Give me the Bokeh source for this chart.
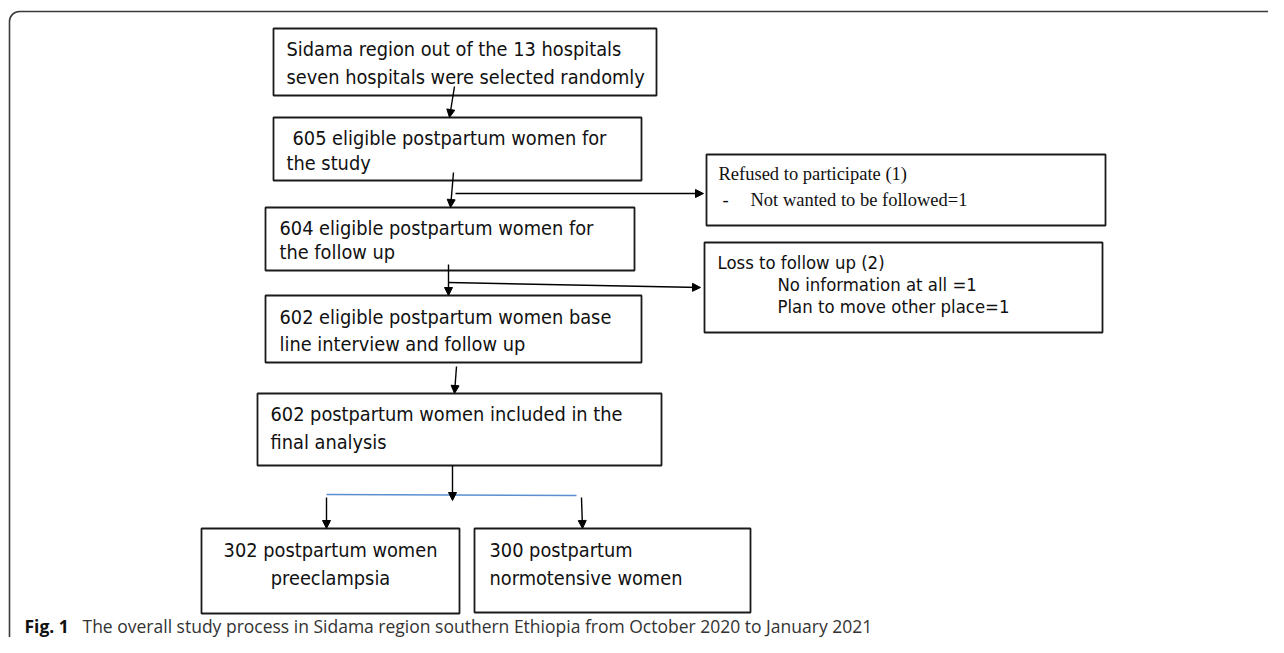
from bokeh.plotting import figure
from bokeh.models import Range1d, Arrow, NormalHead, ColumnDataSource
from bokeh.core.properties import value
from bokeh.embed import file_html
from bokeh.resources import INLINE

# ---- flowchart content ----
box_names = ["hospitals", "eligible605", "eligible604", "eligible602", "final602",
             "preeclampsia", "normotensive", "refused", "loss"]
box_left = [273, 273, 265, 265, 257, 201, 474, 706, 704]
box_right = [656, 641, 634, 641, 661, 459, 750, 1105, 1102]
box_top = [28, 117, 207, 295, 393, 528, 528, 154, 242]
box_bottom = [95, 180, 270, 362, 465, 613, 612, 225, 332]

sans_text = [
    "Sidama region out of the 13 hospitals",
    "seven hospitals were selected randomly",
    "605 eligible postpartum women for",
    "the study",
    "604 eligible postpartum women for",
    "the follow up",
    "602 eligible postpartum women base",
    "line interview and follow up",
    "602 postpartum women included in the",
    "final analysis",
    "300 postpartum",
    "normotensive women",
    "Loss to follow up (2)",
    "No information at all =1",
    "Plan to move other place=1",
]
sans_x = [286, 286, 292, 286, 279, 279, 279, 279, 270, 270, 489, 489, 717, 777, 777]
sans_y = [49, 77, 138, 163, 228, 252, 317, 344, 414, 442, 550, 578, 262, 284, 306]
sans_size = ["19.8px"] * 12 + ["18.4px"] * 3

center_text = ["302 postpartum women", "preeclampsia"]
center_x = [330, 330]
center_y = [550, 578]

serif_text = ["Refused to participate (1)", "-", "Not wanted to be followed=1"]
serif_x = [718, 722, 750]
serif_y = [173, 199, 199]

# arrows: x0, y0, x1, y1
arrow_x0 = [454, 453, 455, 448, 448, 456, 452, 326, 581]
arrow_y0 = [86, 172, 193, 264, 282, 366, 465, 497, 497]
arrow_x1 = [449, 450, 703, 448, 700, 454, 452, 326, 582]
arrow_y1 = [117, 207, 193, 295, 287, 393, 500, 528, 528]

split_x = [326, 576]
split_y = [494, 495]

caption_bold = "Fig. 1"
caption_rest = "The overall study process in Sidama region southern Ethiopia from October 2020 to January 2021"

W, H = 1268, 637
p = figure(width=W, height=H, output_backend="svg", toolbar_location=None,
           x_range=Range1d(0, W), y_range=Range1d(H, 0),
           min_border=0, outline_line_color=None)
p.axis.visible = False
p.grid.visible = False
p.background_fill_color = "white"
p.border_fill_color = "white"

# outer frame (rounded top-left corner, open to right/bottom)
p.quad(left=[9], right=[1400], top=[11], bottom=[900], fill_color=None,
       line_color="#3a3a3a", line_width=1.6, border_radius=10)

src = ColumnDataSource(dict(left=box_left, right=box_right, top=box_top, bottom=box_bottom, name=box_names))
p.quad(left="left", right="right", top="top", bottom="bottom", source=src,
       fill_color="white", line_color="#1a1a1a", line_width=1.8)

for x0, y0, x1, y1 in zip(arrow_x0, arrow_y0, arrow_x1, arrow_y1):
    p.add_layout(Arrow(end=NormalHead(size=8, fill_color="black", line_color="black", line_width=1),
                       x_start=x0, y_start=y0, x_end=x1, y_end=y1,
                       line_color="black", line_width=1.4))

p.line(split_x, split_y, line_color="#5b8fd0", line_width=1.6)

flow_font = "DejaVu Sans Condensed, DejaVu Sans"
p.text(sans_x, sans_y, text=sans_text, text_font=value(flow_font),
       text_font_size=sans_size, text_color="#111111",
       text_baseline="middle", text_align="left")
p.text(center_x, center_y, text=center_text, text_font=value(flow_font),
       text_font_size="19.8px", text_color="#111111",
       text_baseline="middle", text_align="center")
p.text(serif_x, serif_y, text=serif_text, text_font=value("Liberation Serif"),
       text_font_size="18.5px", text_color="#111111",
       text_baseline="middle", text_align="left")

p.text([24], [625], text=[caption_bold], text_font=value("Open Sans"),
       text_font_style="bold", text_font_size="17.5px", text_color="#111111",
       text_baseline="middle", text_align="left")
p.text([82], [625], text=[caption_rest], text_font=value("Open Sans"),
       text_font_size="17.5px", text_color="#333333",
       text_baseline="middle", text_align="left")

open("out.html", "w").write(file_html(p, INLINE))
